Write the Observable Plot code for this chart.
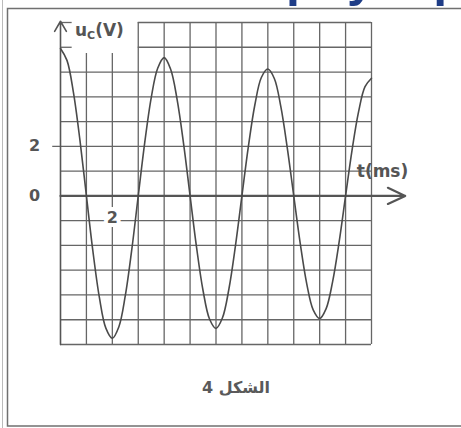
<!DOCTYPE html>
<html>
<head>
<meta charset="utf-8">
<script src="https://cdn.jsdelivr.net/npm/d3@7"></script>
<script src="https://cdn.jsdelivr.net/npm/@observablehq/plot@0.6"></script>
<style>
  html, body { margin: 0; padding: 0; background: #ffffff; }
  #chart svg { display: block; }
</style>
</head>
<body>
<div id="chart"></div>
<script>
// Capacitor voltage u_C(t) of a damped RLC oscillation, sampled every 0.25 ms
const times = [
  0, 0.25, 0.5, 0.75, 1, 1.25, 1.5, 1.75, 2, 2.25, 2.5, 2.75,
  3, 3.25, 3.5, 3.75, 4, 4.25, 4.5, 4.75, 5, 5.25, 5.5, 5.75,
  6, 6.25, 6.5, 6.75, 7, 7.25, 7.5, 7.75, 8, 8.25, 8.5, 8.75,
  9, 9.25, 9.5, 9.75, 10, 10.25, 10.5, 10.75, 11, 11.25, 11.5, 11.75, 12
];
const voltages = [
  5.95, 5.47, 4.17, 2.25, 0, -2.23, -4.10, -5.34, -5.75, -5.29, -4.03, -2.17,
  0, 2.15, 3.96, 5.15, 5.58, 5.11, 3.89, 2.10, 0, -2.08, -3.82, -4.97,
  -5.35, -4.92, -3.75, -2.02, 0, 2.00, 3.68, 4.78, 5.12, 4.74, 3.61, 1.94,
  0, -1.92, -3.54, -4.60, -4.95, -4.55, -3.46, -1.87, 0, 1.85, 3.39, 4.41, 4.75
];

// Grid: 1 ms per column, 1 V per row
const gridTimes = [1, 2, 3, 4, 5, 6, 7, 8, 9, 10, 11, 12];
const gridVolts = [-6, -5, -4, -3, -2, -1, 1, 2, 3, 4, 5, 6, 7];
const tTickLabels = [2];
const uTickLabels = [2, 0];
const tRange = [0, 12];
const uRange = [-6, 7];
const tAxisEnd = 13.3;
const uAxisEnd = 7.05;

const samples = times.map((t, i) => ({t, u: voltages[i]}));

const gridColor = "#666";
const inkColor = "#555";
const font = "DejaVu Sans, sans-serif";

const chart = Plot.plot({
  width: 461,
  height: 428,
  marginLeft: 60,
  marginRight: 90,
  marginTop: 22,
  marginBottom: 84,
  x: {domain: tRange, axis: null},
  y: {domain: uRange, axis: null},
  style: {background: "transparent", fontFamily: font},
  marks: [
    // vertical grid lines (the first two stop short of the label corner)
    Plot.ruleX(gridTimes, {
      x: d => d,
      y1: uRange[0],
      y2: d => (d < 3 ? 5.75 : uRange[1]),
      stroke: gridColor,
      strokeWidth: 1.3
    }),
    // horizontal grid lines
    Plot.ruleY(gridVolts, {
      y: d => d,
      x1: d => (d >= 6 ? 3 : d === 2 ? -0.3 : 0),
      x2: tRange[1],
      stroke: gridColor,
      strokeWidth: 1.3
    }),
    // short ticks beside the vertical axis in the label corner
    Plot.ruleY([6, 7], {
      y: d => d,
      x1: 0,
      x2: 0.45,
      stroke: gridColor,
      strokeWidth: 1.3
    }),
    // time axis with arrow
    Plot.arrow([0], {
      x1: 0, y1: 0, x2: tAxisEnd, y2: 0,
      stroke: inkColor, strokeWidth: 2.2,
      headLength: 13, headAngle: 50
    }),
    // voltage axis with arrow
    Plot.arrow([0], {
      x1: 0, y1: uRange[0], x2: 0, y2: uAxisEnd,
      stroke: inkColor, strokeWidth: 1.6,
      headLength: 11, headAngle: 60
    }),
    // u_C(t)
    Plot.line(samples, {
      x: "t", y: "u",
      curve: "catmull-rom",
      stroke: "#4a4a4a",
      strokeWidth: 1.6
    }),
    // tick labels
    Plot.text(uTickLabels, {
      x: 0, y: d => d, text: d => String(d),
      dx: -26, fontSize: 16, fontWeight: "bold", fill: inkColor,
      textAnchor: "middle", lineAnchor: "middle"
    }),
    Plot.text(tTickLabels, {
      x: d => d, y: 0, text: d => String(d),
      dy: 22, fontSize: 16, fontWeight: "bold", fill: inkColor,
      stroke: "white", strokeWidth: 8,
      textAnchor: "middle", lineAnchor: "middle"
    }),
    // axis name for time
    Plot.text(["t(ms)"], {
      x: tRange[1], y: 1, text: d => d,
      dx: 11, fontSize: 17, fontWeight: "bold", fill: inkColor,
      textAnchor: "middle", lineAnchor: "middle"
    })
  ]
});

document.getElementById("chart").appendChild(chart);

const svg = d3.select(chart);
const xs = chart.scale("x");
const ys = chart.scale("y");

// voltage axis name with subscript
const uLabel = svg.append("text")
  .attr("x", xs.apply(0) + 15)
  .attr("y", ys.apply(uRange[1]) + 14)
  .attr("text-anchor", "start")
  .attr("font-family", font)
  .attr("font-weight", "bold")
  .attr("fill", inkColor)
  .attr("font-size", 17);
uLabel.append("tspan").text("u");
uLabel.append("tspan").attr("font-size", 11).attr("dy", 3).text("C");
uLabel.append("tspan").attr("dy", -3).text("(V)");

// figure caption
svg.append("text")
  .attr("x", 236)
  .attr("y", 388)
  .attr("direction", "rtl")
  .attr("text-anchor", "middle")
  .attr("dominant-baseline", "middle")
  .attr("font-family", font)
  .attr("font-weight", "bold")
  .attr("font-size", 16)
  .attr("fill", "#5a5a5a")
  .text("الشكل 4");

// page frame
const frame = svg.append("g").attr("fill", "none");
frame.append("line").attr("x1", 2.5).attr("x2", 2.5).attr("y1", 0).attr("y2", 428)
  .attr("stroke", "#bbb").attr("stroke-width", 1);
frame.append("path")
  .attr("d", "M461,8.5 H7.5 V426 H461")
  .attr("stroke", "#707070").attr("stroke-width", 1.5);

// page heading running above the frame
svg.append("text")
  .attr("x", 286)
  .attr("y", -4)
  .attr("text-anchor", "start")
  .attr("font-family", "Liberation Sans, Arial, sans-serif")
  .attr("font-weight", "bold")
  .attr("font-size", 50)
  .attr("fill", "#1f3d87")
  .text("physique");
</script>
</body>
</html>
